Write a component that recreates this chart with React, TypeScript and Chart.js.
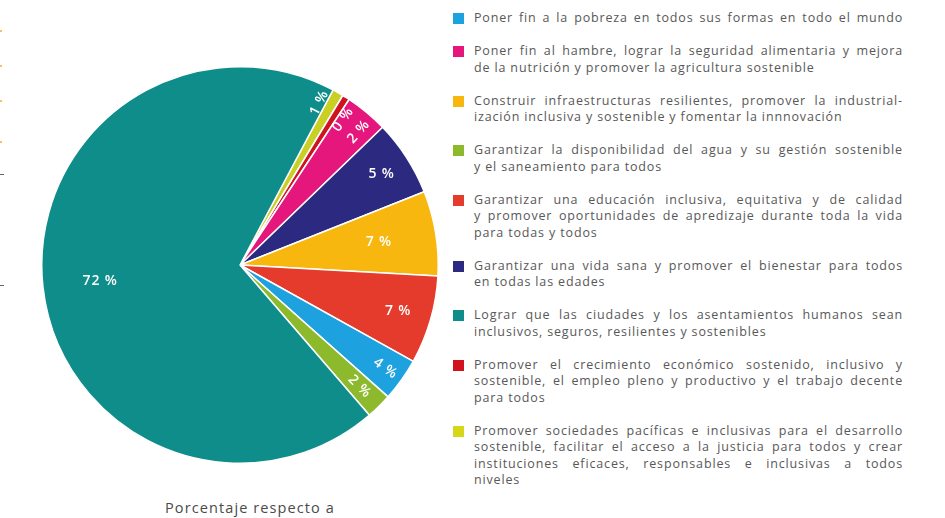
import React, { useEffect, useRef } from "react";
import { Chart, registerables } from "chart.js";

Chart.register(...registerables);

// Slices in drawing order (clockwise from the top)
const sliceNames = [
  "Promover sociedades pacíficas e inclusivas",
  "Promover el crecimiento económico sostenido",
  "Poner fin al hambre",
  "Garantizar una vida sana",
  "Construir infraestructuras resilientes",
  "Garantizar una educación inclusiva",
  "Poner fin a la pobreza",
  "Garantizar la disponibilidad del agua",
  "Lograr que las ciudades y los asentamientos humanos sean inclusivos",
];
const sliceValues = [0.9, 0.6, 3.5, 6.2, 6.9, 7.2, 3.5, 2.1, 69.1];
const sliceLabels = ["1 %", "0 %", "2 %", "5 %", "7 %", "7 %", "4 %", "2 %", "72 %"];
const sliceColors = [
  "#c9cf23",
  "#d0141f",
  "#e5177c",
  "#2b2a80",
  "#f7b70f",
  "#e53b2c",
  "#1da2df",
  "#8cba2c",
  "#0e8d8a",
];
// label placement style (fraction of radius, angular nudge in degrees)
const labelDistance = [0.91, 0.9, 0.9, 0.85, 0.71, 0.83, 0.9, 0.86, 0.71];
const labelNudge = [-3.5, 3, 2, 0, 0, 0, 0, 0, 0];

// Legend (its own order)
const legendColors = [
  "#1da2df",
  "#e5177c",
  "#f7b70f",
  "#8cba2c",
  "#e53b2c",
  "#2b2a80",
  "#0e8d8a",
  "#d0141f",
  "#d7d71a",
];
const legendLines: string[][] = [
  ["Poner fin a la pobreza en todos sus formas en todo el mundo"],
  [
    "Poner fin al hambre, lograr la seguridad alimentaria y mejora",
    "de la nutrición y promover la agricultura sostenible",
  ],
  [
    "Construir infraestructuras resilientes, promover la industrial-",
    "ización inclusiva y sostenible y fomentar la innnovación",
  ],
  [
    "Garantizar la disponibilidad del agua y su gestión sostenible",
    "y el saneamiento para todos",
  ],
  [
    "Garantizar una educación inclusiva, equitativa y de calidad",
    "y promover oportunidades de apredizaje durante toda la vida",
    "para todas y todos",
  ],
  [
    "Garantizar una vida sana y promover el bienestar para todos",
    "en todas las edades",
  ],
  [
    "Lograr que las ciudades y los asentamientos humanos sean",
    "inclusivos, seguros, resilientes y sostenibles",
  ],
  [
    "Promover el crecimiento económico sostenido, inclusivo y",
    "sostenible, el empleo pleno y productivo y el trabajo decente",
    "para todos",
  ],
  [
    "Promover sociedades pacíficas e inclusivas para el desarrollo",
    "sostenible, facilitar el acceso a la justicia para todos y crear",
    "instituciones eficaces, responsables e inclusivas a todos",
    "niveles",
  ],
];
const footerText = "Porcentaje respecto a";

const FONT = "'Open Sans', 'DejaVu Sans', sans-serif";

const sliceLabelPlugin = {
  id: "sliceLabels",
  afterDatasetsDraw(chart: any) {
    const ctx = chart.ctx;
    const meta = chart.getDatasetMeta(0);
    ctx.save();
    ctx.fillStyle = "#ffffff";
    ctx.font = `600 14px ${FONT}`;
    ctx.textAlign = "center";
    ctx.textBaseline = "middle";
    meta.data.forEach((arc: any, i: number) => {
      const p = arc.getProps(["x", "y", "startAngle", "endAngle", "outerRadius"], true);
      const mid = (p.startAngle + p.endAngle) / 2 + (labelNudge[i] * Math.PI) / 180;
      const r = p.outerRadius * labelDistance[i];
      const x = p.x + Math.cos(mid) * r;
      const y = p.y + Math.sin(mid) * r;
      ctx.save();
      ctx.translate(x, y);
      if (sliceValues[i] < 4) ctx.rotate(mid);
      ctx.fillText(sliceLabels[i], 0, 0);
      ctx.restore();
    });
    ctx.restore();
  },
};

export default function App() {
  const canvasRef = useRef<HTMLCanvasElement | null>(null);

  useEffect(() => {
    document.body.style.margin = "0";
    const canvas = canvasRef.current;
    if (!canvas) return;
    const chart = new Chart(canvas, {
      type: "pie",
      data: {
        labels: sliceNames,
        datasets: [
          {
            data: sliceValues,
            backgroundColor: sliceColors,
            borderColor: "#ffffff",
            borderWidth: 1.5,
            hoverOffset: 0,
          },
        ],
      },
      options: {
        responsive: false,
        animation: false,
        rotation: 28,
        layout: { padding: 1 },
        plugins: {
          legend: { display: false },
          tooltip: { enabled: false },
        },
      },
      plugins: [sliceLabelPlugin],
    });
    return () => chart.destroy();
  }, []);

  const lineH = 16.5;
  let top = 10;
  const items = legendLines.map((lines, i) => {
    const t = top;
    top += lines.length * lineH + lineH;
    return (
      <div key={i} style={{ position: "absolute", left: 453, top: t, width: 460 }}>
        <div
          style={{
            position: "absolute",
            left: 0,
            top: 3,
            width: 11,
            height: 11,
            background: legendColors[i],
          }}
        />
        {lines.map((ln, j) => {
          const last = j === lines.length - 1 && lines.length > 1;
          return (
            <div
              key={j}
              style={{
                position: "absolute",
                left: 21,
                top: j * lineH,
                width: 429,
                height: lineH,
                lineHeight: `${lineH}px`,
                whiteSpace: "nowrap",
                textAlign: last ? "left" : "justify",
                textAlignLast: last ? "left" : "justify",
                overflow: "visible",
              } as any}
            >
              {ln}
            </div>
          );
        })}
      </div>
    );
  });

  const marks = [30, 65, 100, 141];

  return (
    <div
      style={{
        position: "absolute",
        left: 0,
        top: 0,
        width: 945,
        height: 518,
        background: "#ffffff",
        overflow: "hidden",
        fontFamily: FONT,
        fontSize: 12.5,
        letterSpacing: 0.85,
        color: "#585858",
      }}
    >
      <canvas
        ref={canvasRef}
        width={400}
        height={400}
        style={{ position: "absolute", left: 40, top: 65, width: 400, height: 400 }}
      />
      {items}
      {marks.map((y) => (
        <div
          key={y}
          style={{ position: "absolute", left: 0, top: y, width: 2, height: 2, background: "#f2c46a" }}
        />
      ))}
      <div style={{ position: "absolute", left: 0, top: 174, width: 4, height: 1, background: "#666" }} />
      <div style={{ position: "absolute", left: 0, top: 285, width: 4, height: 1, background: "#666" }} />
      <div
        style={{
          position: "absolute",
          left: 100,
          width: 300,
          top: 498,
          textAlign: "center",
          fontSize: 14.5,
          color: "#4a4a4a",
          letterSpacing: 1.1,
        }}
      >
        {footerText}
      </div>
    </div>
  );
}
